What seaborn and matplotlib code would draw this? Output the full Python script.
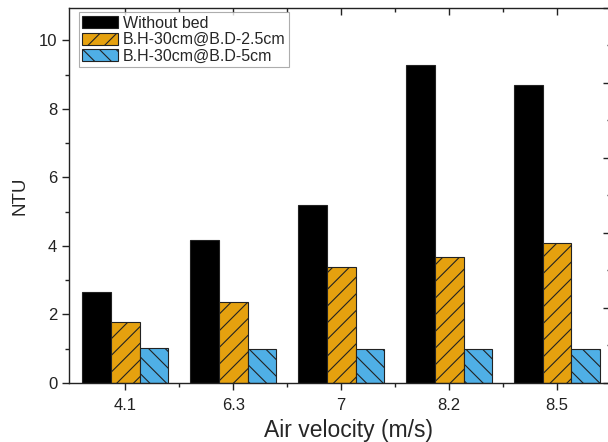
import pandas as pd
import numpy as np
import matplotlib
matplotlib.use("Agg")
import matplotlib.pyplot as plt
from matplotlib.ticker import MultipleLocator
import seaborn as sns

velocity = ["4.1", "6.3", "7", "8.2", "8.5"]
series = ["Without bed", "B.H-30cm@B.D-2.5cm", "B.H-30cm@B.D-5cm"]
ntu_no_bed = [2.67, 4.17, 5.2, 9.27, 8.7]
ntu_bd25 = [1.79, 2.36, 3.38, 3.69, 4.08]
ntu_bd5 = [1.01, 1.0, 1.0, 1.0, 1.0]

colors = ["#000000", "#E5A10F", "#4FAFE6"]
hatches = ["", "//", "\\\\"]

df = pd.DataFrame({
    "velocity": velocity * 3,
    "series": np.repeat(series, len(velocity)),
    "ntu": ntu_no_bed + ntu_bd25 + ntu_bd5,
})

sns.set_style("ticks")
plt.rcParams["font.family"] = ["Liberation Sans", "DejaVu Sans"]
plt.rcParams["hatch.linewidth"] = 0.8
plt.rcParams["hatch.color"] = "#222222"

fig = plt.figure(figsize=(6.08, 4.42), dpi=100)
ax = fig.add_axes([0.1135, 0.1335, 0.92, 0.8485])

sns.barplot(data=df, x="velocity", y="ntu", hue="series", order=velocity,
            hue_order=series, palette=colors, width=0.8, saturation=1,
            edgecolor="#222222", linewidth=0.8, ax=ax, legend=False)

for cont, h in zip(ax.containers, hatches):
    for p in cont:
        p.set_hatch(h)

ax.set_ylim(0, 10.95)
ax.set_xlim(-0.52, 4.66)
ax.yaxis.set_major_locator(MultipleLocator(2))
ax.yaxis.set_minor_locator(MultipleLocator(1))
ax.set_xticks(np.arange(0.5, 4.6, 1), minor=True)

for s in ax.spines.values():
    s.set_visible(True)
    s.set_linewidth(1.0)
    s.set_color("#222222")

ax.tick_params(axis="both", which="major", direction="out", length=5, width=1,
               labelsize=12, colors="#222222")
ax.tick_params(axis="both", which="minor", direction="out", length=3, width=1,
               colors="#222222")
ax.tick_params(axis="x", which="both", top=True)
ax.tick_params(axis="x", which="major", pad=6)

# top ticks point inward
for t in ax.xaxis.get_major_ticks() + ax.xaxis.get_minor_ticks():
    t.tick2line.set_marker(3)

ax.set_xlabel("Air velocity (m/s)", fontsize=16.5, labelpad=4)
ax.set_ylabel("NTU", fontsize=13.5, labelpad=7)

leg = ax.legend(ax.containers, series, loc="upper left",
                bbox_to_anchor=(0.018, 0.988), fontsize=11.5,
                frameon=True, fancybox=False, edgecolor="#999999",
                handlelength=2.25, handleheight=0.8, labelspacing=0.1,
                handletextpad=0.3, borderpad=0.2, borderaxespad=0)
leg.get_frame().set_linewidth(0.8)

# neighbouring panel cut off at the right edge: only its left ticks show
ax2 = fig.add_axes([611 / 608, 0.1335, 0.2, 0.8485])
ax2.set_ylim(0, 5)
ax2.yaxis.set_major_locator(MultipleLocator(1))
ax2.yaxis.set_minor_locator(MultipleLocator(0.5))
ax2.set_xticks([])
ax2.tick_params(axis="y", which="major", direction="out", length=6, width=1,
                labelleft=False, colors="#222222")
ax2.tick_params(axis="y", which="minor", direction="out", length=3, width=1,
                colors="#222222")

fig.savefig("out.png", dpi=100)
